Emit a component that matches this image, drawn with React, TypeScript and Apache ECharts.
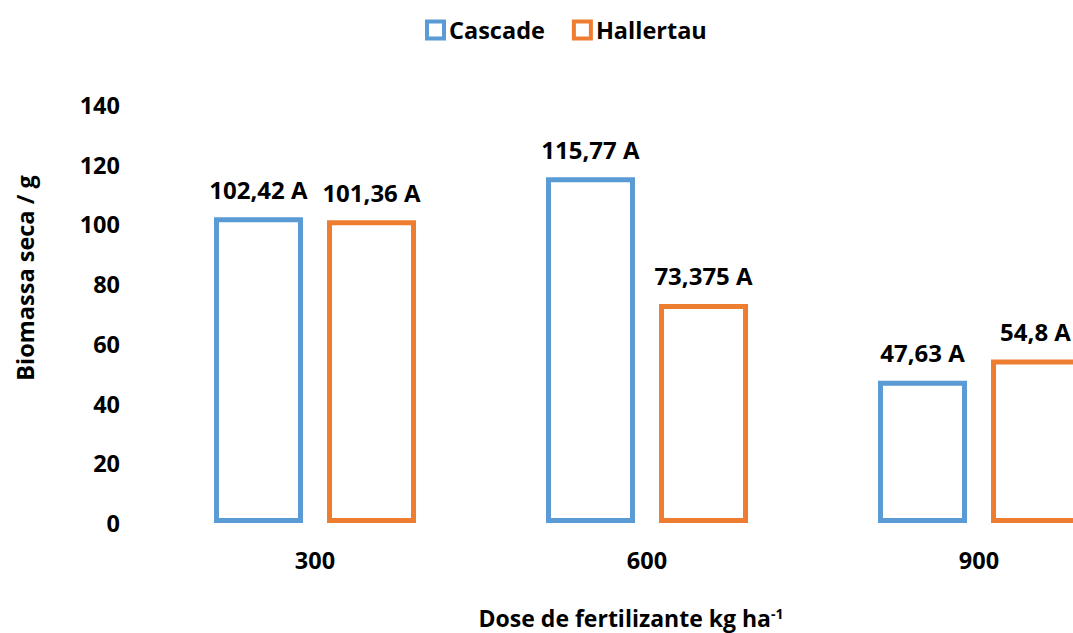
import React, { useEffect, useRef } from "react";
import * as echarts from "echarts";

const categories = ["300", "600", "900"];
const seriesNames = ["Cascade", "Hallertau"];
const cascade = [102.42, 115.77, 47.63];
const hallertau = [101.36, 73.375, 54.8];
const significance = [["A", "A", "A"], ["A", "A", "A"]];
const yTicks = { min: 0, max: 140, interval: 20 };
const colors = ["#5B9BD5", "#ED7D31"];

const FONT = "'Open Sans', 'Noto Sans', sans-serif";

export default function App() {
  const ref = useRef<HTMLDivElement>(null);
  useEffect(() => {
    document.body.style.margin = "0";
    document.body.style.overflow = "hidden";
    const chart = echarts.init(ref.current!, null, { renderer: "svg" });
    const mk = (name: string, data: number[], idx: number) => ({
      name,
      type: "bar",
      data,
      barWidth: 89,
      barGap: "27%",
      itemStyle: { color: "#ffffff", borderColor: colors[idx], borderWidth: 5 },
      label: {
        show: true,
        position: "top",
        distance: 16,
        fontFamily: FONT,
        fontWeight: "bold",
        fontSize: 24,
        color: "#000",
        formatter: (p: any) =>
          String(p.value).replace(".", ",") + " " + significance[idx][p.dataIndex],
      },
    });
    chart.setOption({
      animation: false,
      textStyle: { fontFamily: FONT },
      legend: {
        left: 420,
        top: 13,
        itemWidth: 17,
        itemHeight: 17,
        itemGap: 27,
        icon: "rect",
        textStyle: { fontFamily: FONT, fontWeight: "bold", fontSize: 23.5, color: "#000" },
        data: seriesNames.map((n, i) => ({
          name: n,
          itemStyle: { color: "#fff", borderColor: colors[i], borderWidth: 4 },
        })),
      },
      grid: { left: 149, right: 0, top: 105, bottom: 110 },
      xAxis: {
        type: "category",
        data: categories,
        axisLine: { show: false },
        axisTick: { show: false },
        axisLabel: {
          margin: 25,
          fontFamily: FONT,
          fontWeight: "bold",
          fontSize: 23.5,
          color: "#000",
        },
      },
      yAxis: {
        type: "value",
        min: yTicks.min,
        max: yTicks.max,
        interval: yTicks.interval,
        splitLine: { show: false },
        axisLine: { show: false },
        axisTick: { show: false },
        axisLabel: {
          margin: 29,
          fontFamily: FONT,
          fontWeight: "bold",
          fontSize: 23.5,
          color: "#000",
        },
      },
      graphic: [
        {
          type: "text",
          x: 25,
          y: 278,
          rotation: Math.PI / 2,
          style: {
            text: "Biomassa seca / g",
            fontFamily: FONT,
            fontWeight: "bold",
            fontSize: 23.5,
            fill: "#000",
            align: "center",
            verticalAlign: "middle",
          },
        },
        {
          type: "text",
          x: 631,
          y: 618,
          style: {
            text: "Dose de fertilizante kg ha{sup|-1}",
            fontFamily: FONT,
            fontWeight: "bold",
            fontSize: 23,
            fill: "#000",
            align: "center",
            verticalAlign: "middle",
            rich: {
              sup: {
                fontFamily: FONT,
                fontWeight: "bold",
                fontSize: 14,
                fill: "#000",
                verticalAlign: "top",
              },
            },
          },
        },
      ],
      series: [mk(seriesNames[0], cascade, 0), mk(seriesNames[1], hallertau, 1)],
    });
    return () => chart.dispose();
  }, []);
  return (
    <div style={{ width: 1073, height: 633, overflow: "hidden", position: "relative" }}>
      <div ref={ref} style={{ width: 1145, height: 633 }} />
    </div>
  );
}
